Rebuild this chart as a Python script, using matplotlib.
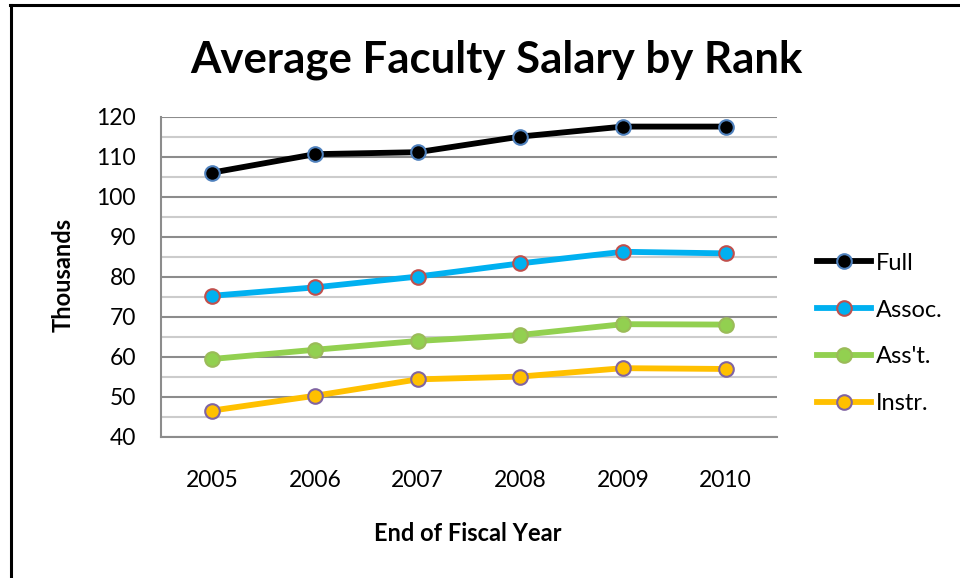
import matplotlib
matplotlib.use("Agg")
import matplotlib.pyplot as plt
from matplotlib.lines import Line2D

plt.rcParams['font.family'] = ['Lato', 'DejaVu Sans']

# data (thousands of dollars)
years = ['2005', '2006', '2007', '2008', '2009', '2010']
full = [106.1, 110.7, 111.2, 115.1, 117.6, 117.6]
assoc = [75.3, 77.4, 80.1, 83.4, 86.3, 85.9]
asst = [59.5, 61.8, 64.0, 65.5, 68.2, 68.1]
instr = [46.6, 50.3, 54.4, 55.1, 57.2, 57.0]
ranks = ['Full', 'Assoc.', "Ass't.", 'Instr.']

# line colour, marker face, marker edge
styles = [
    ('#000000', '#000000', '#4f81bd'),
    ('#00b0f0', '#00b0f0', '#c0504d'),
    ('#92d050', '#92d050', '#9bbb59'),
    ('#ffc000', '#ffc000', '#8064a2'),
]

fig = plt.figure(figsize=(9.6, 5.78), dpi=100)
ax = fig.add_axes([0.1677, 0.244, 0.6416, 0.5536])

x = range(len(years))
for vals, name, (lc, fc, ec) in zip([full, assoc, asst, instr], ranks, styles):
    ax.plot(x, vals, color=lc, lw=4.2, marker='o', ms=10.5,
            mfc=fc, mec=ec, mew=1.5, label=name, zorder=3)

ax.set_xlim(-0.5, 5.5)
ax.set_ylim(40, 120)
ax.set_yticks(range(40, 121, 10))
ax.set_yticks(range(45, 120, 10), minor=True)
ax.set_xticks(list(x))
ax.set_xticklabels(years)

ax.grid(axis='y', which='major', color='#8c8c8c', lw=1.5, zorder=0)
ax.grid(axis='y', which='minor', color='#cccccc', lw=1.5, zorder=0)
ax.set_axisbelow(True)

for s in ['top', 'right']:
    ax.spines[s].set_visible(False)
for s in ['left', 'bottom']:
    ax.spines[s].set_color('#8c8c8c')
    ax.spines[s].set_linewidth(1.5)

ax.tick_params(axis='both', which='both', length=0, labelsize=16.5, colors='#000000')
ax.tick_params(axis='y', pad=18)
ax.tick_params(axis='x', pad=24)

ax.set_ylabel('Thousands', fontsize=17, fontweight='bold')
ax.yaxis.set_label_coords(-0.141, 0.506)
ax.set_xlabel('End of Fiscal Year', fontsize=17, fontweight='bold')
ax.xaxis.set_label_coords(0.498, -0.266)

fig.text(0.517, 0.897, 'Average Faculty Salary by Rank', fontsize=31.5,
         fontweight='bold', ha='center', va='center')

fig.legend(loc='center left', bbox_to_anchor=(0.851, 0.423), frameon=False,
           fontsize=17, handlelength=2.3, handletextpad=0.2, labelspacing=1.1,
           borderpad=0, borderaxespad=0)

# outer frame (left and top edges only visible)
fig.add_artist(Line2D([0.0115, 0.0115], [0, 0.991], transform=fig.transFigure,
                      color='black', lw=2.2))
fig.add_artist(Line2D([0.0105, 1.0], [0.991, 0.991], transform=fig.transFigure,
                      color='black', lw=2.2))

fig.savefig('out.png', dpi=100)
